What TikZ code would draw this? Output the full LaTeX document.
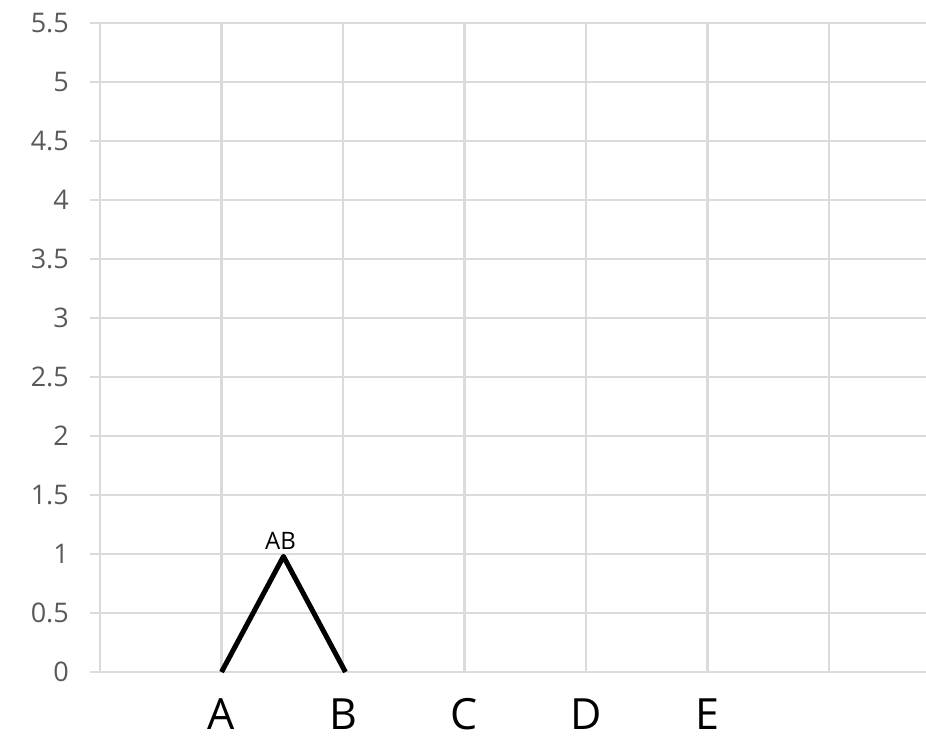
\documentclass[tikz,border=0pt]{standalone}
\usepackage{fontspec}
\setmainfont{Open Sans}
\usetikzlibrary{positioning,calc}

\tikzset{
  gridline/.style={draw=gray!28, line width=2.6pt},
  ylab/.style={anchor=east, text=black!65, font=\fontsize{27}{32}\selectfont, inner sep=0pt},
  xlab/.style={font=\fontsize{43}{51}\selectfont, inner sep=0pt},
  branch/.style={line width=5pt, black, line join=round}
}

\begin{document}
\begin{tikzpicture}[x=121.5pt, y=118pt]
	\useasboundingbox (-0.823,-0.559) rectangle (6.798,5.695);
	% grid
	\foreach \i in {0,...,6} {
		\draw[gridline] (\i,0) -- (\i,5.5);
	}
	\foreach \v [count=\k] in {0,0.5,1,1.5,2,2.5,3,3.5,4,4.5,5,5.5} {
		\draw[gridline] (-0.082,\v) -- (6.798,\v);
		\node[ylab] (y\k) at (-0.255,\v) {\v};
	}
	% leaves
	\foreach \n/\x in {A/1,B/2,C/3,D/4,E/5} {
		\node[xlab] (lab\n) at (\x,-0.355) {\n};
	}
	% tree
	\coordinate (pA) at (1,0);
	\coordinate (pB) at (2.02,0);
	\coordinate (pAB) at (1.51,0.98);
	\draw[branch] (pA) -- (pAB) -- (pB);
	\node[font=\fontsize{24}{29}\selectfont, inner sep=0pt, above=7pt of pAB, xshift=-3pt] (labAB) {AB};
\end{tikzpicture}
\end{document}
